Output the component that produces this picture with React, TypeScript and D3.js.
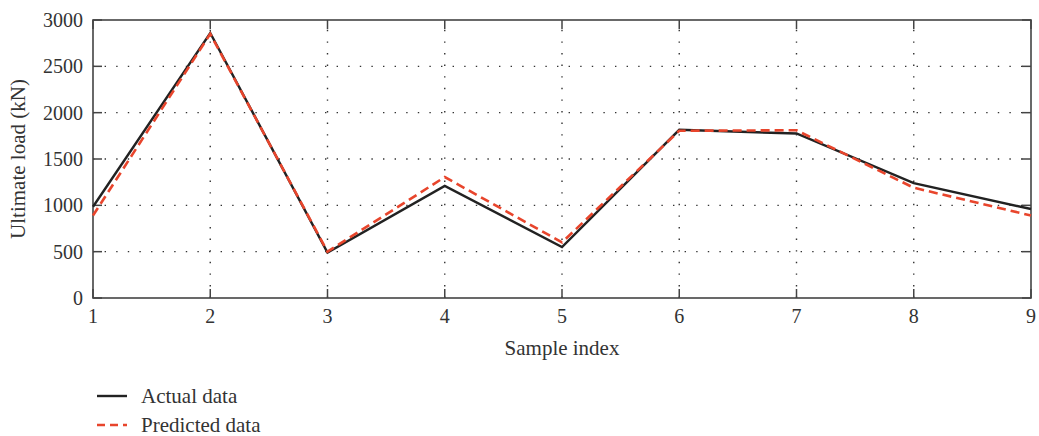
import React from "react";
import * as d3 from "d3";

const samples = [1, 2, 3, 4, 5, 6, 7, 8, 9];
const actualData = [985, 2860, 490, 1210, 550, 1815, 1775, 1240, 960];
const predictedData = [890, 2850, 500, 1305, 600, 1805, 1810, 1190, 890];
const yTicks = [0, 500, 1000, 1500, 2000, 2500, 3000];

const W = 1039;
const H = 436;
const margin = { left: 93, right: 8, top: 20, bottom: 138 };
const font = "'Liberation Serif', 'DejaVu Serif', serif";
const red = "#e8452c";
const ink = "#222";
const axisCol = "#444";

export default function App() {
  const x = d3.scaleLinear().domain([1, 9]).range([margin.left, W - margin.right]);
  const y = d3.scaleLinear().domain([0, 3000]).range([H - margin.bottom, margin.top]);
  const [x0, x1] = x.range();
  const [y0, y1] = y.range();

  const lineGen = d3
    .line<number>()
    .x((_, i) => x(samples[i]))
    .y((d) => y(d));

  return (
    <svg
      width={W}
      height={H}
      style={{ position: "absolute", left: 0, top: 0, display: "block" }}
      fontFamily={font}
    >
      <rect width={W} height={H} fill="#fff" />
      {/* dotted grid */}
      {yTicks.slice(1, -1).map((t) => (
        <line key={"gy" + t} x1={x0} x2={x1} y1={y(t)} y2={y(t)} stroke="#333" strokeWidth={1.4} strokeDasharray="1.4,10.2" />
      ))}
      {samples.slice(1, -1).map((s) => (
        <line key={"gx" + s} x1={x(s)} x2={x(s)} y1={y0} y2={y1} stroke="#333" strokeWidth={1.4} strokeDasharray="1.4,10.2" />
      ))}
      {/* ticks inside */}
      {samples.map((s) => (
        <g key={"tx" + s}>
          <line x1={x(s)} x2={x(s)} y1={y0} y2={y0 - 9} stroke={axisCol} strokeWidth={1.5} />
          <line x1={x(s)} x2={x(s)} y1={y1} y2={y1 + 9} stroke={axisCol} strokeWidth={1.5} />
          <text x={x(s)} y={y0 + 25} textAnchor="middle" fontSize={20} fill="#333">{s}</text>
        </g>
      ))}
      {yTicks.map((t) => (
        <g key={"ty" + t}>
          <line x1={x0} x2={x0 + 9} y1={y(t)} y2={y(t)} stroke={axisCol} strokeWidth={1.5} />
          <line x1={x1} x2={x1 - 9} y1={y(t)} y2={y(t)} stroke={axisCol} strokeWidth={1.5} />
          <text x={x0 - 10} y={y(t) + 7} textAnchor="end" fontSize={20} fill="#333">{t}</text>
        </g>
      ))}
      <rect x={x0} y={y1} width={x1 - x0} height={y0 - y1} fill="none" stroke={axisCol} strokeWidth={1.6} />
      {/* series */}
      <path d={lineGen(actualData) ?? ""} fill="none" stroke={ink} strokeWidth={2.4} strokeLinejoin="miter" />
      <path d={lineGen(predictedData) ?? ""} fill="none" stroke={red} strokeWidth={2.6} strokeDasharray="9,5" />
      {/* axis titles */}
      <text x={(x0 + x1) / 2} y={355} textAnchor="middle" fontSize={21} fill="#333">Sample index</text>
      <text
        transform={`translate(25, ${(y0 + y1) / 2}) rotate(-90)`}
        textAnchor="middle"
        fontSize={21}
        fill="#333"
      >
        Ultimate load (kN)
      </text>
      {/* legend */}
      <line x1={97} x2={127} y1={396} y2={396} stroke={ink} strokeWidth={2.4} />
      <text x={141} y={403} fontSize={21} fill="#333">Actual data</text>
      <line x1={97} x2={127} y1={425} y2={425} stroke={red} strokeWidth={2.6} strokeDasharray="8,5" />
      <text x={141} y={432} fontSize={21} fill="#333">Predicted data</text>
    </svg>
  );
}
